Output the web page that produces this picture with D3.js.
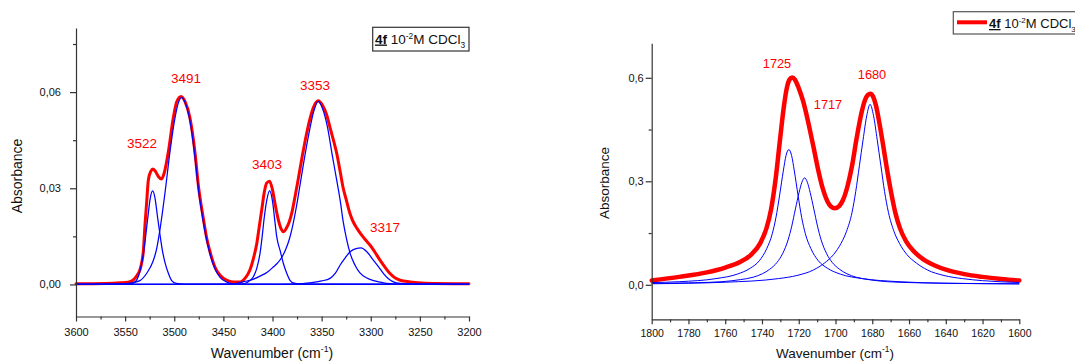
<!DOCTYPE html>
<html><head><meta charset="utf-8">
<script src="https://cdn.jsdelivr.net/npm/d3@7"></script>
<style>
body{margin:0;background:#fff}
svg{display:block}
text{font-family:"Liberation Sans",Arial,sans-serif}
</style>
</head><body>
<svg id="c" width="1075" height="363"></svg>
<script>
// ---------- DATA ----------
// Left panel: N-H region, wavenumber (cm-1) / absorbance
const irMeasured = [[3600,0.0002],[3570,0.0003],[3555,0.0005],[3547,0.0007],[3542,0.0013],[3538,0.0028],[3535,0.0045],[3533,0.007],[3531.5,0.0102],[3529.8,0.0185],[3528,0.026],[3526.4,0.0325],[3524,0.0352],[3521.5,0.036],[3519,0.0352],[3516,0.0336],[3513,0.0329],[3510,0.035],[3506,0.0414],[3501,0.0519],[3497.5,0.057],[3493,0.0586],[3489,0.057],[3484,0.0519],[3479,0.0414],[3475.5,0.031],[3470.4,0.0206],[3467,0.0145],[3463.6,0.0102],[3458,0.005],[3453.4,0.0029],[3447,0.0014],[3440,0.0008],[3433,0.0008],[3428,0.0019],[3423,0.0045],[3419.5,0.008],[3416,0.0128],[3413.5,0.018],[3411,0.0232],[3408.5,0.0285],[3406,0.0316],[3403,0.0322],[3400,0.0295],[3397.5,0.0253],[3394,0.0201],[3391,0.0172],[3388.5,0.0164],[3386,0.0175],[3383,0.0195],[3380,0.0228],[3377,0.0275],[3374,0.0325],[3370,0.0395],[3366,0.046],[3362,0.0515],[3358,0.0555],[3353.5,0.0573],[3349,0.0558],[3345,0.053],[3341.5,0.049],[3338,0.045],[3334.7,0.041],[3331,0.035],[3328,0.030],[3325,0.0265],[3321,0.022],[3317,0.019],[3314,0.0175],[3310,0.0157],[3305,0.0138],[3300.8,0.0123],[3296,0.0102],[3290.6,0.0076],[3285,0.0052],[3280.4,0.0034],[3275,0.002],[3270,0.0013],[3260,0.0008],[3245,0.0004],[3200,0.0002]];
const fit3522 = [[3600,0],[3550,0.0001],[3542,0.0004],[3538,0.0015],[3534.6,0.0045],[3532,0.0085],[3529.5,0.014],[3527,0.0206],[3524.5,0.0268],[3522,0.0292],[3519.5,0.0268],[3517,0.021],[3514.5,0.0155],[3512,0.0105],[3509.4,0.0068],[3506,0.0035],[3502.6,0.0012],[3498,0.0003],[3490,0.0001],[3200,0]];
const fit3491 = [[3600,0],[3555,0.0001],[3545,0.0004],[3535,0.0012],[3528,0.0035],[3522,0.0069],[3518,0.011],[3514.5,0.0172],[3509.4,0.0286],[3504.3,0.0415],[3499.2,0.052],[3496,0.0565],[3492.5,0.0583],[3489,0.0568],[3484,0.051],[3479,0.040],[3475.5,0.030],[3470.4,0.0195],[3463.6,0.0095],[3458,0.0045],[3453.4,0.0022],[3447,0.0008],[3440,0.0002],[3430,0],[3200,0]];
const fit3403 = [[3600,0],[3440,0],[3430,0.0002],[3426,0.0006],[3419.5,0.0024],[3416,0.005],[3412.7,0.0097],[3410.5,0.015],[3408.7,0.0201],[3406,0.026],[3403,0.0293],[3400,0.026],[3397.5,0.0195],[3395.7,0.0149],[3392,0.0103],[3389,0.0066],[3385.5,0.0035],[3382.2,0.0013],[3378,0.0004],[3370,0.0001],[3200,0]];
const fit3353 = [[3600,0],[3460,0],[3440,0.0001],[3430,0.0008],[3420,0.0016],[3412.7,0.0026],[3405,0.0039],[3399,0.0055],[3394.5,0.0068],[3390.5,0.0085],[3386.5,0.011],[3382.5,0.0145],[3379,0.019],[3375.5,0.0245],[3372,0.031],[3368,0.0385],[3363,0.047],[3358,0.054],[3353.5,0.0571],[3349,0.0548],[3344,0.049],[3339,0.040],[3334.7,0.0326],[3331,0.026],[3328,0.0195],[3324.5,0.014],[3321,0.0097],[3316,0.006],[3311,0.0036],[3304,0.002],[3297,0.0012],[3290,0.0007],[3284,0.0003],[3270,0.0001],[3200,0]];
const fit3317 = [[3600,0],[3400,0],[3380,0.0001],[3360,0.0006],[3350,0.0011],[3341.5,0.0019],[3336,0.0035],[3331.3,0.006],[3326,0.0083],[3321,0.0102],[3315,0.0112],[3310,0.0114],[3304,0.0102],[3297.4,0.0076],[3292,0.0055],[3287,0.0034],[3282,0.0018],[3277,0.0008],[3270,0.0003],[3255,0.0001],[3200,0]];
const nhPeakLabels = ["3522","3491","3403","3353","3317"];
const nhXTicks = [3600,3550,3500,3450,3400,3350,3300,3250,3200];
const nhXMinor = [3575,3525,3475,3425,3375,3325,3275,3225];
const nhYTicks = [0,0.03,0.06];
const nhYMinor = [0.015,0.045,0.075];

// Right panel: C=O region
const coMeasured = [[1800,0.0125],[1785,0.023],[1770,0.036],[1760,0.05],[1752,0.066],[1746,0.087],[1741,0.12],[1737.5,0.165],[1735,0.22],[1732.5,0.31],[1730,0.43],[1728,0.52],[1726.5,0.57],[1725,0.595],[1723.6,0.601],[1722,0.594],[1720,0.57],[1717.5,0.53],[1715,0.475],[1712,0.40],[1709.5,0.335],[1707,0.28],[1704.5,0.243],[1702.5,0.227],[1700.3,0.222],[1698,0.228],[1696,0.245],[1693.5,0.285],[1691,0.345],[1688.5,0.425],[1686,0.495],[1684,0.535],[1682.5,0.55],[1681,0.554],[1679.5,0.545],[1678,0.52],[1676,0.465],[1674,0.402],[1672,0.335],[1670,0.275],[1667.5,0.21],[1665,0.165],[1661.5,0.125],[1657,0.095],[1652,0.073],[1646,0.056],[1639.5,0.043],[1630,0.031],[1620,0.023],[1610,0.017],[1600,0.0125]];
const fit1725 = [[1800,0.0065],[1785,0.009],[1765,0.018],[1753.4,0.031],[1746.4,0.048],[1741.4,0.07],[1737.4,0.105],[1734.4,0.148],[1732.4,0.195],[1730.4,0.26],[1728.4,0.33],[1726.9,0.375],[1725.4,0.392],[1723.9,0.375],[1722.4,0.33],[1720.4,0.26],[1718.4,0.195],[1716.4,0.148],[1713.4,0.105],[1709.4,0.07],[1704.4,0.048],[1697.4,0.031],[1685.4,0.018],[1665.4,0.009],[1640,0.0045],[1600,0.0025]];
const fit1717 = [[1800,0.0042],[1776.8,0.006],[1761.8,0.009],[1751.8,0.015],[1744.8,0.022],[1739.8,0.032],[1735.8,0.045],[1731.8,0.065],[1728.8,0.09],[1725.8,0.13],[1723.8,0.17],[1721.8,0.22],[1719.8,0.268],[1718.3,0.297],[1716.8,0.31],[1715.3,0.297],[1713.8,0.268],[1711.8,0.22],[1709.8,0.17],[1707.8,0.13],[1704.8,0.09],[1701.8,0.065],[1697.8,0.045],[1693.8,0.032],[1688.8,0.022],[1681.8,0.015],[1671.8,0.009],[1656.8,0.006],[1631.8,0.004],[1600,0.003]];
const fit1680 = [[1800,0.003],[1760,0.0075],[1731,0.018],[1721,0.027],[1712,0.043],[1706,0.063],[1701,0.088],[1697,0.12],[1694,0.155],[1691,0.21],[1689,0.27],[1687,0.345],[1685,0.42],[1683,0.49],[1681.2,0.523],[1679.3,0.49],[1677.3,0.42],[1675.3,0.345],[1673.3,0.27],[1671.2,0.21],[1668.2,0.155],[1665.2,0.12],[1661.2,0.088],[1656,0.063],[1650,0.043],[1641,0.027],[1631,0.018],[1620,0.012],[1600,0.0067]];
const coPeakLabels = ["1725","1717","1680"];
const coXTicks = [1800,1780,1760,1740,1720,1700,1680,1660,1640,1620,1600];
const coXMinor = [1790,1770,1750,1730,1710,1690,1670,1650,1630,1610];
const coYTicks = [0,0.3,0.6];
const coYMinor = [0.15,0.45];

// ---------- DRAWING ----------
const svg = d3.select('#c');
const RED = '#ff0000', BLUE = '#0000ff', AXIS = '#333';

function panel(o){
  const x = d3.scaleLinear().domain(o.xDom).range(o.xRange);
  const y = d3.scaleLinear().domain(o.yDom).range(o.yRange);
  const g = svg.append('g');
  const comma = f => d => d3.format(f)(d).replace('.', ',');
  const line = d3.line().x(d => x(d[0])).y(d => y(d[1])).curve(d3.curveMonotoneX);
  const sorted = arr => arr.slice().sort((a,b)=>x(a[0])-x(b[0]));

  // measured spectrum (red), then fitted components (blue)
  g.append('path').datum(sorted(o.measured)).attr('d', line)
    .attr('fill','none').attr('stroke',RED).attr('stroke-width',o.redW)
    .attr('stroke-linejoin','round').attr('stroke-linecap','round');
  o.fits.forEach(f => g.append('path').datum(sorted(f)).attr('d', line)
    .attr('fill','none').attr('stroke',BLUE).attr('stroke-width',o.blueW));

  // axes
  const yBase = o.yRange[0], xBase = o.xRange[0];
  const ax = g.append('g').attr('transform',`translate(0,${yBase})`)
    .call(d3.axisBottom(x).tickValues(o.xTicks).tickSize(5).tickSizeOuter(0).tickPadding(o.xPad).tickFormat(d3.format('d')));
  const axm = g.append('g').attr('transform',`translate(0,${yBase})`)
    .call(d3.axisBottom(x).tickValues(o.xMinor).tickSize(3).tickFormat(''));
  const ay = g.append('g').attr('transform',`translate(${xBase},0)`)
    .call(d3.axisLeft(y).tickValues(o.yTicks).tickSize(6).tickSizeOuter(0).tickPadding(o.yPad).tickFormat(comma(o.yFmt)));
  const aym = g.append('g').attr('transform',`translate(${xBase},0)`)
    .call(d3.axisLeft(y).tickValues(o.yMinor).tickSize(3).tickFormat(''));
  axm.select('.domain').remove(); aym.select('.domain').remove();
  [ax,axm,ay,aym].forEach(a=>{
    a.selectAll('path,line').attr('stroke',AXIS).attr('stroke-width',1.2);
    a.selectAll('text').attr('fill','#111').style('font-family','"Liberation Sans",Arial,sans-serif');
  });
  ax.selectAll('text').attr('font-size',o.xFont);
  ay.selectAll('text').attr('font-size',11);

  // peak labels
  o.labels.forEach((t,i)=>{
    g.append('text').attr('x',o.labelPos[i][0]).attr('y',o.labelPos[i][1])
      .attr('text-anchor','middle').attr('fill',RED).attr('font-size',o.labelFont).text(t);
  });

  // axis titles
  const xt = g.append('text').attr('x',o.xTitle[0]).attr('y',o.xTitle[1]).attr('text-anchor','middle')
    .attr('font-size',o.titleFont).attr('fill','#111');
  xt.append('tspan').text('Wavenumber (cm');
  xt.append('tspan').attr('font-size',o.titleFont*0.62).attr('dy',-6).text('-1');
  xt.append('tspan').attr('dy',6).text(')');
  g.append('text').attr('transform',`translate(${o.yTitle[0]},${o.yTitle[1]}) rotate(-90)`)
    .attr('text-anchor','middle').attr('font-size',o.titleFont).attr('fill','#111').text('Absorbance');
  return g;
}

function legendText(sel, fs){
  sel.append('tspan').attr('font-weight','bold').style('text-decoration','underline').text('4f');
  sel.append('tspan').text(' 10');
  sel.append('tspan').attr('font-size',fs*0.62).attr('dy',-5).text('-2');
  sel.append('tspan').attr('dy',5).text('M CDCl');
  sel.append('tspan').attr('font-size',fs*0.62).attr('dy',4).text('3');
}

panel({
  xDom:[3600,3200], xRange:[76,469], yDom:[-0.01,0.08], yRange:[316.5,28],
  measured: irMeasured, fits:[fit3522,fit3491,fit3403,fit3353,fit3317],
  redW:3, blueW:1.25, xTicks:nhXTicks, xMinor:nhXMinor, yTicks:nhYTicks, yMinor:nhYMinor,
  yFmt:'.2f', xPad:7, yPad:9, xFont:11,
  labels:nhPeakLabels, labelPos:[[142,147.5],[186,83],[267,169],[315,90],[385,232]], labelFont:13.5,
  xTitle:[272,358], yTitle:[22,176], titleFont:14
});
panel({
  xDom:[1800,1600], xRange:[651.7,1019.3], yDom:[-0.1,0.7], yRange:[319.3,43.3],
  measured: coMeasured, fits:[fit1725,fit1717,fit1680],
  redW:4.5, blueW:1, xTicks:coXTicks, xMinor:coXMinor, yTicks:coYTicks, yMinor:coYMinor,
  yFmt:'.1f', xPad:5, yPad:2, xFont:10.5,
  labels:coPeakLabels, labelPos:[[777,68],[828,109],[872,79]], labelFont:12.8,
  xTitle:[835,358], yTitle:[609,183], titleFont:13.5
});

// legends
svg.append('rect').attr('x',372.7).attr('y',27.3).attr('width',96.3).attr('height',23.7)
  .attr('fill','#fff').attr('stroke','#333').attr('stroke-width',1.2);
legendText(svg.append('text').attr('x',375).attr('y',43.5).attr('font-size',13.5).attr('fill','#111'), 13.5);

svg.append('rect').attr('x',953.3).attr('y',11.7).attr('width',140).attr('height',22.3)
  .attr('fill','#fff').attr('stroke','#555').attr('stroke-width',1.2);
svg.append('line').attr('x1',957).attr('x2',987).attr('y1',22.3).attr('y2',22.3)
  .attr('stroke',RED).attr('stroke-width',4);
legendText(svg.append('text').attr('x',989).attr('y',28).attr('font-size',13).attr('fill','#111'), 13);
</script>
</body></html>
